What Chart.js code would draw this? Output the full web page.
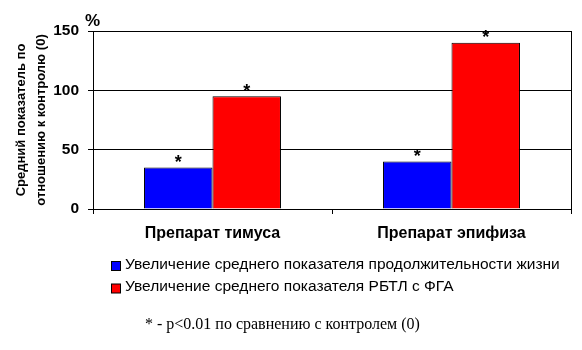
<!DOCTYPE html>
<html><head><meta charset="utf-8">
<script src="https://cdn.jsdelivr.net/npm/chart.js@4/dist/chart.umd.min.js"></script>
<style>html,body{margin:0;padding:0;background:#fff;}canvas{display:block;}</style>
</head><body>
<canvas id="c" width="582" height="350"></canvas>
<script>
const categories = ['Препарат тимуса', 'Препарат эпифиза'];
const seriesNames = ['Увеличение среднего показателя продолжительности жизни', 'Увеличение среднего показателя РБТЛ с ФГА'];
const lifespanValues = [35, 40];
const rbtlValues = [95, 140];
const significance = ['*', '*'];
const yTicks = [0, 50, 100, 150];
const yTitle = ['Средний показатель по', 'отношению к контролю (0)'];
const unitLabel = '%';
const footnote = '* - p<0.01 по сравнению с контролем (0)';
const colors = ['#0000FF', '#FF0000'];

const decor = {
  id: 'decor',
  afterDraw(chart) {
    const ctx = chart.ctx, a = chart.chartArea;
    ctx.save();
    ctx.strokeStyle = '#000'; ctx.lineWidth = 1;
    ctx.beginPath();
    ctx.moveTo(Math.round(a.right) + 0.5, a.top); ctx.lineTo(Math.round(a.right) + 0.5, a.bottom);
    ctx.stroke();
    // asterisks
    ctx.fillStyle = '#000'; ctx.font = 'bold 18px Arial, "Liberation Sans"';
    ctx.textAlign = 'center'; ctx.textBaseline = 'alphabetic';
    chart.data.datasets.forEach((ds, di) => {
      chart.getDatasetMeta(di).data.forEach((bar, i) => {
        ctx.fillText(significance[i], bar.x, bar.y + 0.5);
      });
    });
    // unit
    ctx.font = 'bold 17px Arial, "Liberation Sans"';
    ctx.textAlign = 'left';
    ctx.fillText(unitLabel, 85, 26);
    // legend
    ctx.font = '15.5px Arial, "Liberation Sans"';
    chart.data.datasets.forEach((ds, di) => {
      const y = 261 + di * 22.5;
      ctx.fillStyle = ds.backgroundColor;
      ctx.fillRect(111.5, y + 0.5, 9, 9);
      ctx.strokeStyle = '#000';
      ctx.strokeRect(111.5, y + 0.5, 9, 9);
      ctx.fillStyle = '#000';
      ctx.fillText(ds.label, 125, y + 7.5);
    });
    // footnote
    ctx.font = '16px "Times New Roman", "Liberation Serif"';
    ctx.fillText(footnote, 145, 329);
    ctx.restore();
  }
};

new Chart(document.getElementById('c'), {
  type: 'bar',
  data: {
    labels: categories,
    datasets: [
      { label: seriesNames[0], data: lifespanValues, backgroundColor: colors[0], borderColor: '#000', borderWidth: 1 },
      { label: seriesNames[1], data: rbtlValues, backgroundColor: colors[1], borderColor: '#000', borderWidth: 1 }
    ]
  },
  options: {
    responsive: false,
    animation: false,
    devicePixelRatio: 1,
    layout: { padding: { left: 0, top: 31, right: 11, bottom: 105 } },
    plugins: { legend: { display: false }, tooltip: { enabled: false } },
    datasets: { bar: { categoryPercentage: 0.573, barPercentage: 1 } },
    scales: {
      x: {
        grid: { offset: true, drawOnChartArea: false, color: '#000', tickLength: 5, lineWidth: 1 },
        border: { color: '#000' },
        ticks: { color: '#000', font: { family: 'Arial, "Liberation Sans"', size: 16, weight: 'bold' }, padding: 10 },
        afterFit(s) { s.height = 36; }
      },
      y: {
        min: 0, max: 150,
        afterBuildTicks(s) { s.ticks = yTicks.map(v => ({ value: v })); },
        grid: { color: '#000', tickLength: 5, lineWidth: 1 },
        border: { color: '#000' },
        ticks: { color: '#000', font: { family: 'Arial, "Liberation Sans"', size: 15.5, weight: 'bold' }, padding: 9 },
        title: { display: true, text: yTitle, color: '#000', font: { family: 'Arial, "Liberation Sans"', size: 13, weight: 'bold', lineHeight: 1.54 }, padding: { top: 11, bottom: 0 } },
        afterFit(s) { s.width = 93; }
      }
    }
  },
  plugins: [decor]
});
</script>
</body></html>
